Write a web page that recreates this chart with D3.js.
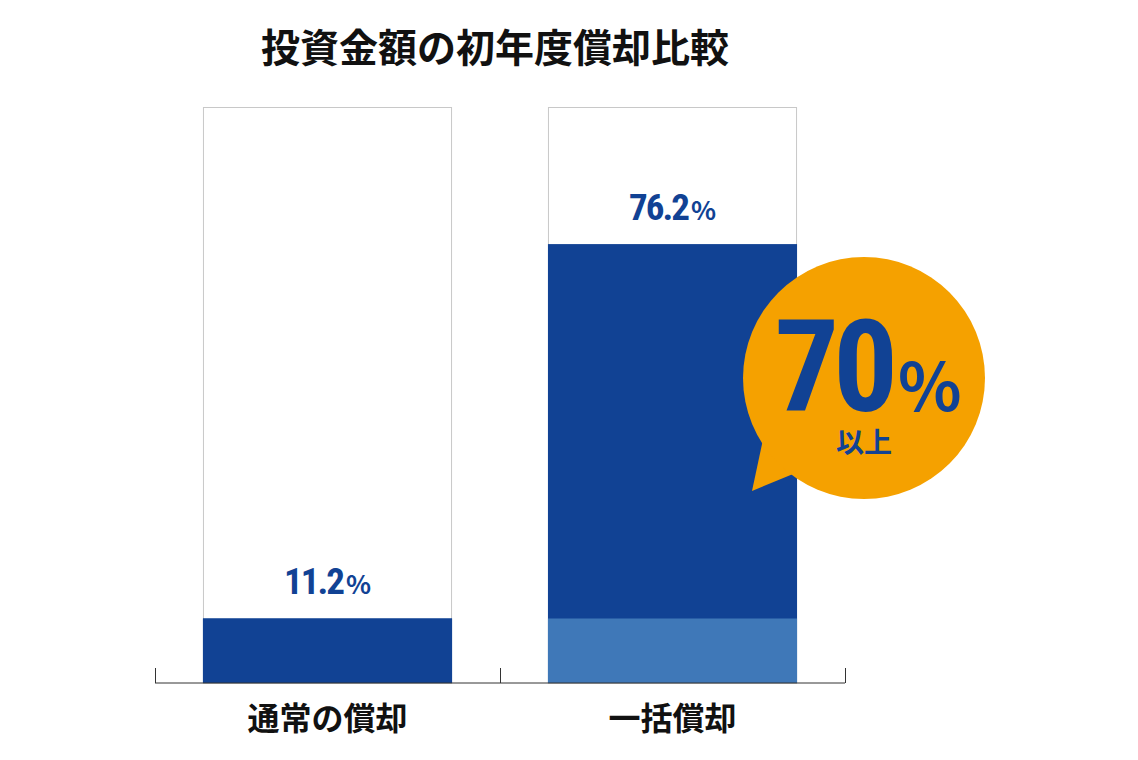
<!DOCTYPE html>
<html>
<head>
<meta charset="utf-8">
<script src="https://cdn.jsdelivr.net/npm/d3@7"></script>
<style>
  body { margin: 0; background: #fff; }
  text { font-family: "Noto Sans CJK JP", "Noto Sans", sans-serif; }
</style>
</head>
<body>
<script>
// chart data
var categories = ["通常の償却", "一括償却"];
var baseValues = [11.2, 11.2];      // ordinary depreciation share
var totalValues = [11.2, 76.2];     // total first-year depreciation share
var valueLabels = ["11.2", "76.2"];
var title = "投資金額の初年度償却比較";
var bubbleMain = "70";
var bubbleSub = "以上";

var W = 1138, H = 760;
var svg = d3.select("body").append("svg").attr("width", W).attr("height", H);

var x = d3.scaleBand().domain(categories).range([155, 845])
    .paddingInner(0.278).paddingOuter(0.139);
var y = d3.scaleLinear().domain([0, 100]).range([683, 107]);

var dark = "#114294", light = "#3f78b8", orange = "#f5a100";

// title
svg.append("text").attr("x", 495).attr("y", 62).attr("text-anchor", "middle")
    .attr("font-size", 39).attr("font-weight", "bold").attr("fill", "#111").text(title);

// outline frames
svg.selectAll(".frame").data(categories).enter().append("rect")
    .attr("x", function(d) { return x(d) + 0.5; })
    .attr("y", y(100) + 0.5)
    .attr("width", x.bandwidth() - 1)
    .attr("height", y(0) - y(100))
    .attr("fill", "#fff").attr("stroke", "#c8c8c8");

// upper (dark) segment
svg.selectAll(".top").data(categories).enter().append("rect")
    .attr("x", function(d) { return x(d); })
    .attr("y", function(d, i) { return y(totalValues[i]); })
    .attr("width", x.bandwidth())
    .attr("height", function(d, i) { return y(0) - y(totalValues[i]); })
    .attr("fill", dark);

// base segment: light on the second bar
svg.selectAll(".base").data(categories).enter().append("rect")
    .attr("x", function(d) { return x(d); })
    .attr("y", function(d, i) { return y(baseValues[i]); })
    .attr("width", x.bandwidth())
    .attr("height", function(d, i) { return y(0) - y(baseValues[i]); })
    .attr("fill", function(d, i) { return i === 0 ? dark : light; });

// value labels
var vl = svg.selectAll(".vl").data(categories).enter().append("text")
    .attr("x", function(d) { return x(d) + x.bandwidth() / 2; })
    .attr("y", function(d, i) { return y(totalValues[i]) - 24; })
    .attr("text-anchor", "middle").attr("fill", dark).attr("font-weight", "bold");
vl.append("tspan").attr("font-size", 37).attr("font-family", "Roboto Condensed, Roboto, sans-serif")
    .attr("letter-spacing", -2).text(function(d, i) { return valueLabels[i]; });
vl.append("tspan").attr("font-size", 26).attr("dx", 3).text("%");

// axis
var axis = svg.append("g").attr("transform", "translate(0,683)");
axis.append("line").attr("x1", 155).attr("x2", 845).attr("stroke", "#333");
var ticks = [155, 155 + x.step(), 845];
axis.selectAll(".tk").data(ticks).enter().append("line")
    .attr("x1", function(d) { return d + 0.5; }).attr("x2", function(d) { return d + 0.5; })
    .attr("y1", 0).attr("y2", -15).attr("stroke", "#333");
axis.selectAll(".cl").data(categories).enter().append("text")
    .attr("x", function(d) { return x(d) + x.bandwidth() / 2; })
    .attr("y", 47).attr("text-anchor", "middle").attr("font-size", 32)
    .attr("font-weight", "bold").attr("fill", "#111").text(function(d) { return d; });

// speech bubble
var b = svg.append("g");
b.append("path").attr("d", "M765,430 L752,491 L815,465 Z").attr("fill", orange);
b.append("circle").attr("cx", 864).attr("cy", 378).attr("r", 121).attr("fill", orange);
var bt = b.append("text").attr("x", 868).attr("y", 411).attr("text-anchor", "middle")
    .attr("fill", dark).attr("font-weight", "bold");
bt.append("tspan").attr("font-size", 128).attr("letter-spacing", -6)
    .attr("font-family", "Roboto Condensed, Roboto, sans-serif").text(bubbleMain);
bt.append("tspan").attr("font-size", 66).attr("dx", 6).text("%");
b.append("text").attr("x", 864).attr("y", 453).attr("text-anchor", "middle")
    .attr("font-size", 28).attr("font-weight", "bold").attr("fill", dark).text(bubbleSub);
</script>
</body>
</html>
